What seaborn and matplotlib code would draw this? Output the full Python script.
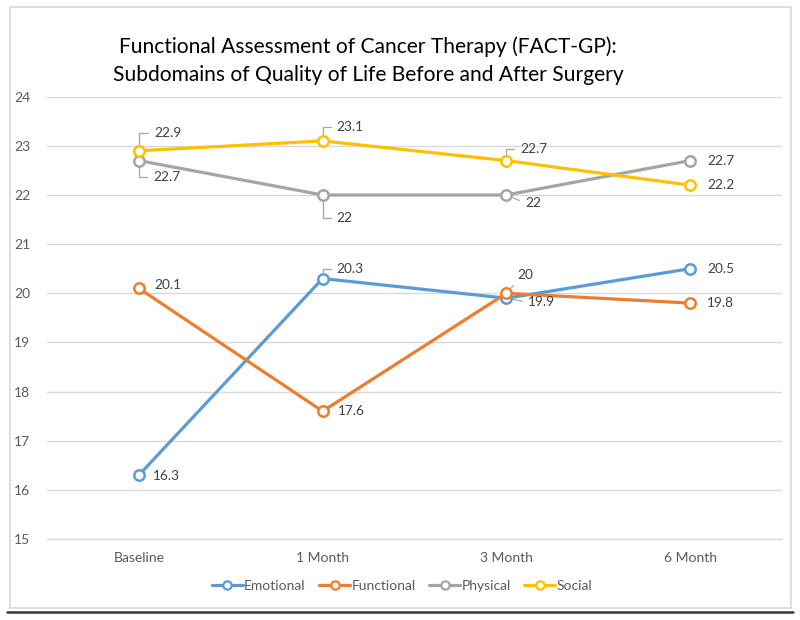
import matplotlib
matplotlib.use("Agg")
import matplotlib.pyplot as plt
from matplotlib.lines import Line2D
from matplotlib.patches import Rectangle
import seaborn as sns
import pandas as pd

# ---- data ----
timepoints = ["Baseline", "1 Month", "3 Month", "6 Month"]
emotional = [16.3, 20.3, 19.9, 20.5]
functional = [20.1, 17.6, 20.0, 19.8]
physical = [22.7, 22.0, 22.0, 22.7]
social = [22.9, 23.1, 22.7, 22.2]
series_names = ["Emotional", "Functional", "Physical", "Social"]
series_values = [emotional, functional, physical, social]
colors = ["#5B9BD5", "#ED7D31", "#A5A5A5", "#FFC000"]
title = "Functional Assessment of Cancer Therapy (FACT-GP):\nSubdomains of Quality of Life Before and After Surgery"

sns.set_theme(style="white")
plt.rcParams['font.family'] = ['Lato', 'DejaVu Sans']

fig = plt.figure(figsize=(8, 6.2), dpi=100)
ax = fig.add_axes([47/800, 1-539/620, 735/800, (539-96.7)/620])

handles = []
for name, vals, col in zip(series_names, series_values, colors):
    df = pd.DataFrame({"time": timepoints, "value": vals})
    sns.lineplot(data=df, x="time", y="value", ax=ax, color=col, linewidth=2.3,
                 marker="o", markersize=7.5, markerfacecolor="white",
                 markeredgecolor=col, markeredgewidth=1.8, sort=False)
    handles.append(Line2D([], [], color=col, linewidth=2.3, marker="o", markersize=6,
                          markerfacecolor="white", markeredgecolor=col, markeredgewidth=1.6))

ax.set_xlim(-0.5, 3.5)
ax.set_ylim(15, 24)
ax.set_yticks(range(15, 25))
ax.set_xlabel("")
ax.set_ylabel("")
ax.grid(axis="y", color="#D9D9D9", linewidth=1)
ax.grid(axis="x", visible=False)
for s in ["top", "right", "left"]:
    ax.spines[s].set_visible(False)
ax.spines["bottom"].set_color("#D9D9D9")
ax.spines["bottom"].set_linewidth(1)
ax.tick_params(axis="both", length=0, labelsize=10, labelcolor="#595959")
ax.tick_params(axis="y", pad=12)
ax.tick_params(axis="x", pad=9)

lead = "#A6A6A6"
# (series index, point index, dx_px, dy_px(up), leader style)
label_specs = [
    (0, 0, 14, -1, None), (0, 1, 14, 10, "angle"), (0, 2, 22, -4, "straight_mid"), (0, 3, 17, 0, None),
    (1, 0, 15, 3, None), (1, 1, 15, 0, None), (1, 2, 11, 18, "straight_low"), (1, 3, 17, 0, None),
    (2, 0, 14, -16, "angle"), (2, 1, 14, -23, "angle"), (2, 2, 19, -8, "straight_mid"), (2, 3, 17, 0, None),
    (3, 0, 15, 18, "angle"), (3, 1, 14, 14, "angle"), (3, 2, 14, 12, "angle"), (3, 3, 17, 0, None),
]
for si, pi, dx, dy, style in label_specs:
    v = series_values[si][pi]
    txt = f"{v:g}"
    kw = dict(xy=(pi, v), xytext=(dx, dy), textcoords="offset pixels",
              ha="left", va="center", fontsize=9.8, color="#404040", zorder=5)
    if style == "angle":
        kw["arrowprops"] = dict(arrowstyle="-", color=lead, lw=0.9, relpos=(0, 0.5),
                                connectionstyle="angle,angleA=0,angleB=90,rad=0",
                                shrinkA=2, shrinkB=5)
    elif style == "straight_mid":
        kw["arrowprops"] = dict(arrowstyle="-", color=lead, lw=0.9, relpos=(0, 0.5),
                                shrinkA=2, shrinkB=5)
    elif style == "straight_low":
        kw["arrowprops"] = dict(arrowstyle="-", color=lead, lw=0.9, relpos=(0, 0),
                                shrinkA=1, shrinkB=5)
    ax.annotate(txt, **kw)

ax.legend(handles, series_names, loc="center", bbox_to_anchor=(402/800, (620-586)/620),
          bbox_transform=fig.transFigure, ncol=4, frameon=False, fontsize=10,
          labelcolor="#595959", handlelength=2.2, handletextpad=0.1, columnspacing=1.0)

fig.text(368/800, 1-61/620, title, ha="center", va="center", fontsize=15.1,
         color="#000000", linespacing=1.5)

# chart border and bottom rule
fig.add_artist(Rectangle((10/800, 1-608/620), 781/800, 601/620, transform=fig.transFigure,
                         fill=False, edgecolor="#D9D9D9", linewidth=1.2))
fig.add_artist(Line2D([7/800, 793/800], [1-611.5/620, 1-611.5/620], transform=fig.transFigure,
                      color="#3A3A3A", linewidth=1.8))

fig.savefig("out.png", dpi=100)
